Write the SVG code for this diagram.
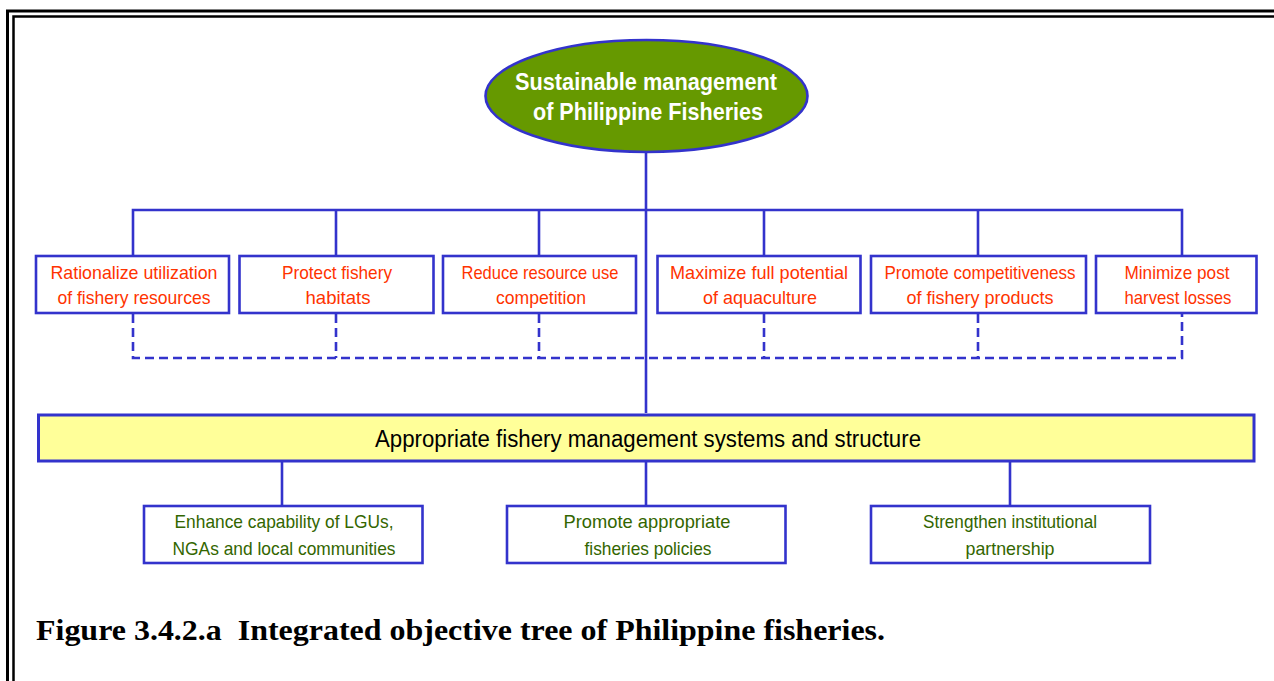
<svg xmlns="http://www.w3.org/2000/svg" width="1274" height="681" viewBox="0 0 1274 681">
  <style>
    .frame { fill: none; stroke: #000; }
    .link { fill: none; stroke: #3333CC; stroke-width: 2.6; }
    .dash { fill: none; stroke: #3333CC; stroke-width: 2.6; stroke-dasharray: 9 5; }
    .box { fill: #fff; stroke: #3333CC; stroke-width: 2.6; }
    .goal { font-family: "Liberation Sans", Arial, sans-serif; font-size: 19px; fill: #FF3300; text-anchor: middle; }
    .act { font-family: "Liberation Sans", Arial, sans-serif; font-size: 19px; fill: #336600; text-anchor: middle; }
    .root { font-family: "Liberation Sans", Arial, sans-serif; font-size: 24px; font-weight: bold; fill: #fff; text-anchor: middle; }
    .mid { font-family: "Liberation Sans", Arial, sans-serif; font-size: 23px; fill: #000; text-anchor: middle; }
  </style>

  <rect width="1274" height="681" fill="#fff"/>

  <!-- double page frame (open on right and bottom) -->
  <g id="frame">
    <path class="frame" stroke-width="3" d="M7.5 681 V11 H1274"/>
    <path class="frame" stroke-width="2.5" d="M13.5 681 V16.5 H1274"/>
  </g>

  <!-- connectors -->
  <g id="connectors">
    <path class="link" d="M646 152 V413"/>
    <path class="link" d="M133 256 V210 H1182 V256"/>
    <path class="link" d="M336 210 V256 M539 210 V256 M764 210 V256 M978 210 V256"/>
    <path class="dash" d="M133 314 V358 H1182 V314"/>
    <path class="dash" d="M336 314 V358 M539 314 V358 M764 314 V358 M978 314 V358"/>
    <path class="link" d="M282 461 V506 M646 461 V506 M1010 461 V506"/>
  </g>

  <!-- top goal -->
  <g id="node-root">
    <ellipse cx="646.5" cy="96" rx="161" ry="56" fill="#669900" stroke="#3333CC" stroke-width="2.6"/>
    <text class="root" x="646" y="90" textLength="262" lengthAdjust="spacingAndGlyphs">Sustainable management</text>
    <text class="root" x="648" y="120" textLength="230" lengthAdjust="spacingAndGlyphs">of Philippine Fisheries</text>
  </g>

  <!-- objectives -->
  <g id="node-rationalize">
    <rect class="box" x="36" y="256" width="193" height="57"/>
    <text class="goal" x="134" y="279" textLength="167" lengthAdjust="spacingAndGlyphs">Rationalize utilization</text>
    <text class="goal" x="134" y="304" textLength="153" lengthAdjust="spacingAndGlyphs">of fishery resources</text>
  </g>
  <g id="node-protect">
    <rect class="box" x="239.5" y="256" width="194" height="57"/>
    <text class="goal" x="337" y="279" textLength="110" lengthAdjust="spacingAndGlyphs">Protect fishery</text>
    <text class="goal" x="338" y="304" textLength="65" lengthAdjust="spacingAndGlyphs">habitats</text>
  </g>
  <g id="node-reduce">
    <rect class="box" x="443" y="256" width="193" height="57"/>
    <text class="goal" x="540" y="279" textLength="157" lengthAdjust="spacingAndGlyphs">Reduce resource use</text>
    <text class="goal" x="541" y="304" textLength="90" lengthAdjust="spacingAndGlyphs">competition</text>
  </g>
  <g id="node-maximize">
    <rect class="box" x="657.5" y="256" width="203" height="57"/>
    <text class="goal" x="759" y="279" textLength="178" lengthAdjust="spacingAndGlyphs">Maximize full potential</text>
    <text class="goal" x="760" y="304" textLength="114" lengthAdjust="spacingAndGlyphs">of aquaculture</text>
  </g>
  <g id="node-promote">
    <rect class="box" x="871" y="256" width="215" height="57"/>
    <text class="goal" x="980" y="279" textLength="191" lengthAdjust="spacingAndGlyphs">Promote competitiveness</text>
    <text class="goal" x="980" y="304" textLength="147" lengthAdjust="spacingAndGlyphs">of fishery products</text>
  </g>
  <g id="node-minimize">
    <rect class="box" x="1096" y="256" width="160.5" height="57"/>
    <text class="goal" x="1177" y="279" textLength="105" lengthAdjust="spacingAndGlyphs">Minimize post</text>
    <text class="goal" x="1178" y="304" textLength="107" lengthAdjust="spacingAndGlyphs">harvest losses</text>
  </g>

  <!-- management systems bar -->
  <g id="node-systems">
    <rect x="38.5" y="415" width="1215.5" height="46" fill="#FFFF99" stroke="#3333CC" stroke-width="3"/>
    <text class="mid" x="648" y="447" textLength="546" lengthAdjust="spacingAndGlyphs">Appropriate fishery management systems and structure</text>
  </g>

  <!-- supporting actions -->
  <g id="node-capability">
    <rect class="box" x="144" y="506" width="278.5" height="57"/>
    <text class="act" x="284" y="528" textLength="219" lengthAdjust="spacingAndGlyphs">Enhance capability of LGUs,</text>
    <text class="act" x="284" y="555" textLength="223" lengthAdjust="spacingAndGlyphs">NGAs and local communities</text>
  </g>
  <g id="node-policies">
    <rect class="box" x="507" y="506" width="278.5" height="57"/>
    <text class="act" x="647" y="528" textLength="167" lengthAdjust="spacingAndGlyphs">Promote appropriate</text>
    <text class="act" x="648" y="555" textLength="127" lengthAdjust="spacingAndGlyphs">fisheries policies</text>
  </g>
  <g id="node-partnership">
    <rect class="box" x="871" y="506" width="279" height="57"/>
    <text class="act" x="1010" y="528" textLength="174" lengthAdjust="spacingAndGlyphs">Strengthen institutional</text>
    <text class="act" x="1010" y="555" textLength="89" lengthAdjust="spacingAndGlyphs">partnership</text>
  </g>

  <!-- figure caption -->
  <text x="36" y="640" font-family="'Liberation Serif', 'Times New Roman', Times, serif" font-size="29" font-weight="700" fill="#000" xml:space="preserve" textLength="849" lengthAdjust="spacingAndGlyphs">Figure 3.4.2.a  Integrated objective tree of Philippine fisheries.</text>
</svg>
